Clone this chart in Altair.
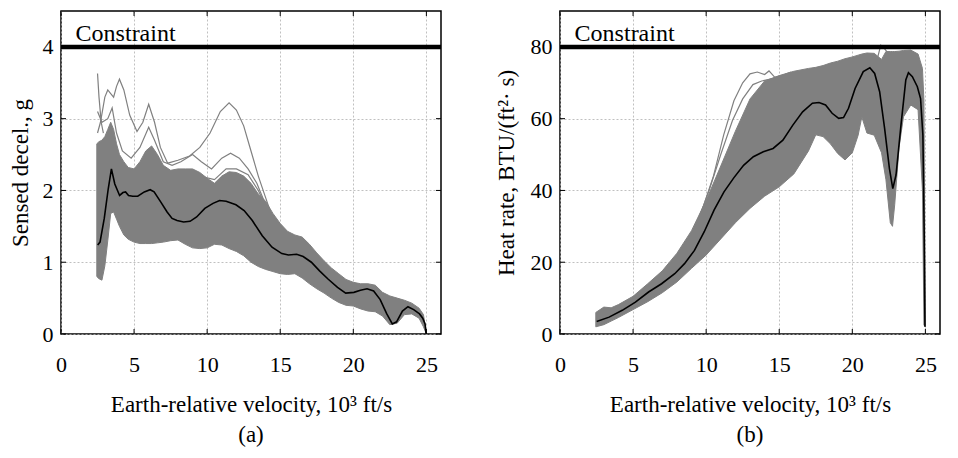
import altair as alt
import pandas as pd

FONT = "Liberation Serif"
GRAY = "#808080"
W, H = 380, 323

x_ticks = [0, 5, 10, 15, 20, 25]

# ---------------- Panel (a): sensed deceleration ----------------
dec_ticks = [0, 1, 2, 3, 4]
dec_band_v = [2.45, 2.6, 2.8, 3.0, 3.2, 3.4, 3.6, 3.8, 4.0, 4.3, 4.6, 5.0, 5.4, 5.8, 6.2, 6.6,
              7.0, 7.5, 8.0, 8.5, 9.0, 9.5, 10.0, 10.5, 11.0, 11.5, 12.0, 12.5, 13.0, 13.5,
              14.0, 14.5, 15.0, 15.5, 16.0, 16.5, 17.0, 17.5, 18.0, 18.5, 19.0, 19.5, 20.0,
              20.5, 21.0, 21.5, 22.0, 22.5, 23.0, 23.5, 24.0, 24.5, 24.8, 25.0]
dec_band_hi = [2.65, 2.68, 2.7, 2.75, 2.85, 2.95, 2.85, 2.65, 2.5, 2.4, 2.32, 2.3, 2.4, 2.55,
               2.62, 2.5, 2.35, 2.28, 2.3, 2.3, 2.3, 2.25, 2.17, 2.1, 2.2, 2.26, 2.25, 2.2,
               2.1, 1.95, 1.85, 1.68, 1.54, 1.43, 1.38, 1.35, 1.25, 1.13, 1.02, 0.92, 0.84,
               0.76, 0.72, 0.7, 0.7, 0.68, 0.58, 0.53, 0.5, 0.47, 0.43, 0.36, 0.27, 0.0]
dec_band_lo = [0.8, 0.77, 0.75, 0.95, 1.3, 1.68, 1.7, 1.6, 1.5, 1.38, 1.32, 1.28, 1.26, 1.26,
               1.26, 1.27, 1.28, 1.3, 1.31, 1.25, 1.2, 1.19, 1.2, 1.25, 1.24, 1.19, 1.15, 1.09,
               1.0, 0.94, 0.9, 0.87, 0.84, 0.83, 0.84, 0.78, 0.7, 0.63, 0.57, 0.5, 0.44, 0.4,
               0.39, 0.35, 0.32, 0.31, 0.25, 0.13, 0.15, 0.27, 0.28, 0.22, 0.1, 0.0]
dec_nom_v = [2.51, 2.67, 2.96, 3.23, 3.45, 3.68, 4.01, 4.24, 4.42, 4.62, 4.91, 5.25, 5.70, 6.10,
             6.37, 6.82, 7.26, 7.60, 7.94, 8.39, 8.83, 9.28, 9.84, 10.40, 10.85, 11.30, 11.97,
             12.53, 13.09, 13.77, 14.44, 15.11, 15.56, 16.12, 16.57, 17.13, 17.69, 18.25, 18.92,
             19.48, 20.04, 20.49, 20.94, 21.39, 21.84, 22.29, 22.67, 22.96, 23.36, 23.74, 24.13,
             24.53, 24.75, 24.91, 24.98]
dec_nom = [1.24, 1.28, 1.61, 2.02, 2.30, 2.09, 1.93, 1.97, 1.98, 1.93, 1.92, 1.92, 1.98, 2.01,
           1.98, 1.84, 1.70, 1.61, 1.58, 1.56, 1.57, 1.63, 1.75, 1.82, 1.86, 1.85, 1.80, 1.72,
           1.58, 1.37, 1.21, 1.12, 1.10, 1.11, 1.08, 1.00, 0.88, 0.77, 0.65, 0.57, 0.58, 0.61,
           0.63, 0.60, 0.48, 0.28, 0.14, 0.17, 0.32, 0.38, 0.34, 0.28, 0.22, 0.14, 0.0]
dec_out1_v = [2.5, 2.6, 2.75, 2.9]
dec_out1 = [3.63, 3.3, 2.95, 2.8]
dec_out2_v = [2.5, 2.7, 3.0, 3.2, 3.4, 3.6, 3.8, 4.0, 4.3, 4.7, 5.2, 5.6, 6.0, 6.4, 6.8, 7.3,
              8.0, 8.8, 9.5, 10.2, 10.9, 11.5, 12.0, 12.5, 13.0, 13.5, 14.0, 14.5, 15.0]
dec_out2 = [2.8, 2.95, 3.3, 3.4, 3.35, 3.3, 3.45, 3.55, 3.4, 3.05, 2.82, 2.95, 3.2, 2.95, 2.6,
            2.38, 2.42, 2.48, 2.6, 2.8, 3.1, 3.22, 3.12, 2.9, 2.55, 2.2, 1.9, 1.6, 1.45]
dec_out3_v = [2.5, 2.8, 3.2, 3.5, 3.8, 4.2, 4.8, 5.4, 6.0, 6.4, 7.0, 7.6, 8.2, 9.0, 9.6, 10.3,
              11.0, 11.6, 12.2, 12.8, 13.4, 14.0, 14.6]
dec_out3 = [3.1, 2.95, 3.0, 3.15, 2.8, 2.55, 2.45, 2.6, 2.88, 2.7, 2.4, 2.35, 2.4, 2.5, 2.4,
            2.3, 2.45, 2.52, 2.45, 2.3, 2.1, 1.8, 1.5]
dec_out4_v = [9.5, 10.5, 11.3, 12.0, 12.8, 13.5, 14.2, 14.8]
dec_out4 = [2.2, 2.15, 2.3, 2.3, 2.22, 2.0, 1.7, 1.45]

# ---------------- Panel (b): heat rate ----------------
heat_ticks = [0, 20, 40, 60, 80]
heat_band_v = [2.45, 3.0, 3.5, 4.0, 5.0, 6.0, 7.0, 8.0, 9.0, 10.0, 11.0, 12.0, 13.0, 14.0, 15.0,
               16.0, 17.0, 17.5, 18.0, 18.5, 19.0, 19.5, 20.0, 20.4, 20.65, 21.0, 21.5, 22.0,
               22.3, 22.6, 22.75, 22.9, 23.2, 23.5, 24.0, 24.5, 24.8, 24.9, 25.0]
heat_band_hi = [6.0, 7.5, 7.3, 8.2, 10.5, 14.0, 17.6, 22.5, 28.8, 37.2, 46.8, 56.5, 65.5, 70.5,
                72.0, 73.2, 74.0, 74.3, 74.8, 75.5, 76.0, 76.7, 77.2, 77.7, 78.0, 78.3, 78.2,
                76.5, 78.7, 78.7, 78.7, 78.7, 78.8, 79.0, 79.1, 78.0, 74.0, 65.0, 2.0]
heat_band_lo = [2.0, 2.6, 3.6, 4.6, 6.8, 9.0, 11.5, 14.5, 18.3, 22.0, 26.5, 31.0, 35.0, 38.4,
                41.0, 44.6, 51.0, 55.5, 55.0, 53.0, 50.3, 48.5, 50.5, 55.4, 60.5, 56.0, 55.4,
                50.5, 43.0, 31.0, 30.0, 36.0, 52.0, 60.5, 63.8, 62.5, 40.0, 2.5, 2.0]
heat_nom_v = [2.51, 3.36, 4.26, 5.16, 6.06, 6.95, 7.85, 8.52, 9.20, 9.87, 10.54, 11.22, 11.89,
              12.56, 13.23, 13.91, 14.58, 15.25, 15.93, 16.60, 17.27, 17.72, 18.17, 18.62, 19.07,
              19.40, 19.74, 20.19, 20.75, 21.20, 21.53, 21.87, 22.21, 22.54, 22.77, 22.99, 23.33,
              23.66, 23.84, 24.11, 24.45, 24.67, 24.83, 24.92, 24.97]
heat_nom = [3.5, 4.7, 6.6, 8.9, 11.7, 14.0, 16.8, 19.6, 23.3, 28.5, 34.5, 39.6, 43.5, 47.0, 49.4,
            50.8, 51.7, 54.0, 58.2, 61.9, 64.3, 64.5, 63.8, 61.5, 60.1, 60.3, 62.9, 68.4, 73.1,
            74.2, 72.6, 67.5, 57.3, 46.1, 40.5, 44.3, 58.2, 70.8, 72.8, 71.7, 68.9, 65.6, 55.4,
            27.5, 2.0]
heat_out1_v = [8.3, 9.0, 9.8, 10.5, 11.2, 11.9, 12.5, 13.0, 13.5, 14.0, 14.3, 14.7, 15.2, 15.8]
heat_out1 = [21.5, 27.5, 35.5, 44.0, 55.5, 65.0, 70.0, 72.5, 73.0, 72.3, 73.3, 71.5, 72.0, 73.0]
heat_out2_v = [9.3, 10.2, 11.0, 11.8, 12.5, 13.2, 13.8, 14.4, 15.0]
heat_out2 = [30.0, 40.0, 50.0, 59.5, 65.5, 69.5, 70.5, 71.0, 71.5]
heat_out3_v = [21.7, 21.95, 22.2, 22.5]
heat_out3 = [76.5, 80.5, 79.5, 78.0]

X_TITLE = "Earth-relative velocity, 10\u00b3 ft/s"


def panel(band_v, lo, hi, nom_v, nom, outliers, ydom, yticks, ytitle, sub, cval, ytitle_pad):
    xs = alt.Scale(domain=[0, 26], nice=False, zero=False)
    ys = alt.Scale(domain=ydom, nice=False, zero=False)
    xaxis = alt.Axis(values=x_ticks, title=X_TITLE, ticks=False, domain=False,
                     labelPadding=20, titlePadding=18, labelFlush=False)
    yaxis = alt.Axis(values=yticks, title=ytitle, ticks=False, domain=False, labelPadding=8,
                     titlePadding=ytitle_pad)
    X = alt.X("v:Q", scale=xs, axis=xaxis)
    Y = alt.Y("y:Q", scale=ys, axis=yaxis)

    band = alt.Chart(pd.DataFrame({"v": band_v, "y": lo, "y2": hi})).mark_area(
        color=GRAY, opacity=1, stroke=GRAY, strokeWidth=1).encode(x=X, y=Y, y2="y2:Q")

    rows = []
    for k, (ov, oy) in enumerate(outliers):
        for a, b in zip(ov, oy):
            rows.append({"v": a, "y": b, "id": k})
    outl = alt.Chart(pd.DataFrame(rows)).mark_line(color=GRAY, strokeWidth=1.2).encode(
        x=X, y=Y, detail="id:N")

    nomline = alt.Chart(pd.DataFrame({"v": nom_v, "y": nom})).mark_line(
        color="black", strokeWidth=1.6).encode(x=X, y=Y)

    cons = alt.Chart(pd.DataFrame({"y": [cval]})).mark_rule(
        color="black", strokeWidth=4.5).encode(y=Y)
    ctext = alt.Chart(pd.DataFrame({"v": [1.0], "y": [cval + (ydom[1] - ydom[0]) * 0.04],
                                    "t": ["Constraint"]})).mark_text(
        align="left", baseline="middle", font=FONT, fontSize=24, color="black").encode(
        x=X, y=Y, text="t:N")

    subtext = alt.Chart(pd.DataFrame({"t": [sub]})).mark_text(
        align="center", baseline="alphabetic", font=FONT, fontSize=23, color="black").encode(
        x=alt.value(W / 2), y=alt.value(H + 108), text="t:N")

    xt = pd.DataFrame({"v": x_ticks})
    yt = pd.DataFrame({"y": yticks})
    tb = alt.Chart(xt).mark_rule(color="black").encode(x=X, y=alt.value(H), y2=alt.value(H - 5))
    tt = alt.Chart(xt).mark_rule(color="black").encode(x=X, y=alt.value(0), y2=alt.value(5))
    tl = alt.Chart(yt).mark_rule(color="black").encode(y=Y, x=alt.value(0), x2=alt.value(5))
    tr = alt.Chart(yt).mark_rule(color="black").encode(y=Y, x=alt.value(W - 5), x2=alt.value(W))

    return alt.layer(band, outl, nomline, cons, ctext, tb, tt, tl, tr, subtext).properties(
        width=W, height=H)


left = panel(dec_band_v, dec_band_lo, dec_band_hi, dec_nom_v, dec_nom,
             [(dec_out1_v, dec_out1), (dec_out2_v, dec_out2), (dec_out3_v, dec_out3),
              (dec_out4_v, dec_out4)],
             [0, 4.5], dec_ticks, "Sensed decel., g", "(a)", 4.0, 10)
right = panel(heat_band_v, heat_band_lo, heat_band_hi, heat_nom_v, heat_nom,
              [(heat_out1_v, heat_out1), (heat_out2_v, heat_out2), (heat_out3_v, heat_out3)],
              [0, 90], heat_ticks, "Heat rate, BTU/(ft\u00b2\u00b7 s)", "(b)", 80.0, 12)

chart = alt.hconcat(left, right, spacing=50).properties(
    padding={"left": 0, "top": 1, "right": 0, "bottom": 0}
).configure_view(stroke="black", strokeWidth=1.5).configure_axis(
    labelFont=FONT, titleFont=FONT, labelFontSize=22, titleFontSize=23,
    titleFontWeight="normal", labelColor="black", titleColor="black",
    gridColor="#b0b0b0", gridDash=[2, 2], gridWidth=0.8
)

chart.save("out.html", embed_options={"renderer": "svg", "actions": False})
